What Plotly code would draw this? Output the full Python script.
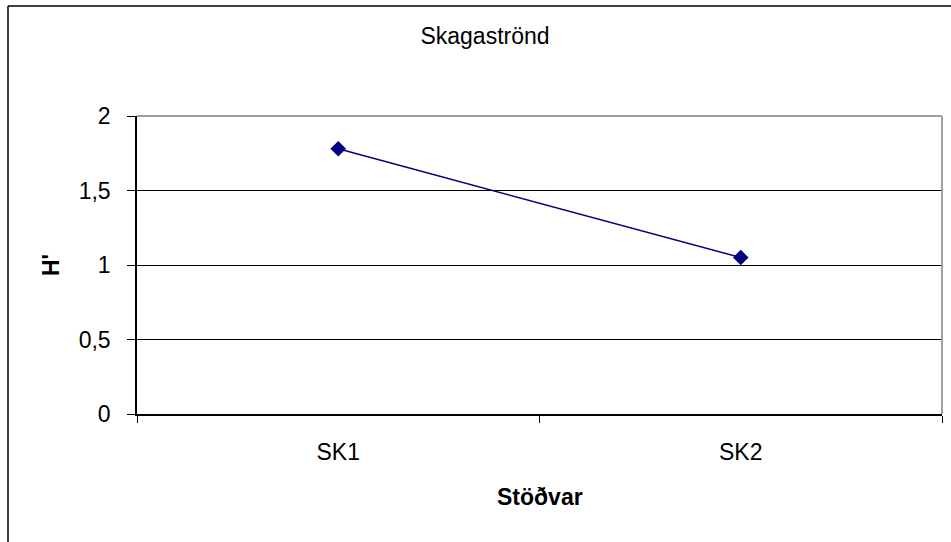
import plotly.graph_objects as go

categories = ["SK1", "SK2"]
h_values = [1.78, 1.05]
y_ticks = [0, 0.5, 1, 1.5, 2]
y_tick_labels = ["0", "0,5", "1", "1,5", "2"]
title_text = "Skagaströnd"
x_title = "Stöðvar"
y_title = "H'"

W, H = 951, 542
L, R, T, B = 137, 9, 116, 128
pw, ph = W - L - R, H - T - B

def px_x(x):
    return (x - L) / pw

def px_y(y):
    return (H - B - y) / ph

font = "Liberation Sans, Arial, sans-serif"
FS = 23

fig = go.Figure()
fig.add_trace(go.Scatter(
    x=categories, y=h_values, mode="lines+markers",
    line=dict(color="#000080", width=1.5),
    marker=dict(symbol="diamond", size=12, color="#000080"),
    showlegend=False,
))

fig.update_layout(
    width=W, height=H,
    margin=dict(l=L, r=R, t=T, b=B, pad=0),
    paper_bgcolor="white", plot_bgcolor="white",
    font=dict(family=font, size=FS, color="black"),
    title=dict(text=title_text, x=485 / W, xanchor="center", xref="container",
               y=1 - 36 / H, yanchor="middle", yref="container",
               font=dict(size=FS, family=font, color="black")),
    xaxis=dict(type="category", range=[-0.5, 1.5], tickson="boundaries",
               ticks="outside", ticklen=7, tickcolor="black", tickwidth=1,
               showline=True, linecolor="black", linewidth=1.5,
               showgrid=False, zeroline=False,
               ticklabelstandoff=17,
               tickfont=dict(size=FS, family=font)),
    yaxis=dict(range=[0, 2], tickvals=y_ticks, ticktext=y_tick_labels,
               ticks="outside", ticklen=8, tickcolor="black", tickwidth=1,
               showline=True, linecolor="black", linewidth=1.5,
               showgrid=True, gridcolor="black", gridwidth=1,
               zeroline=False, ticklabelstandoff=12,
               tickfont=dict(size=FS, family=font)),
    annotations=[
        dict(text="<b>" + x_title + "</b>", xref="paper", yref="paper",
             x=0.5, y=px_y(497), xanchor="center", yanchor="middle",
             showarrow=False, font=dict(size=FS, family=font)),
        dict(text="<b>" + y_title + "</b>", xref="paper", yref="paper",
             x=px_x(51), y=0.5, xanchor="center", yanchor="middle",
             textangle=-90, showarrow=False, font=dict(size=FS, family=font)),
    ],
    shapes=[
        dict(type="line", xref="paper", yref="paper", x0=0, x1=1, y0=1, y1=1,
             line=dict(color="#a0a0a0", width=2), layer="above"),
        dict(type="line", xref="paper", yref="paper", x0=1, x1=1, y0=0, y1=1,
             line=dict(color="#a0a0a0", width=2), layer="above"),
        dict(type="line", xref="paper", yref="paper", x0=px_x(8), x1=px_x(W + 2),
             y0=px_y(6), y1=px_y(6), line=dict(color="black", width=1.5)),
        dict(type="line", xref="paper", yref="paper", x0=px_x(8), x1=px_x(8),
             y0=px_y(6), y1=px_y(H + 2), line=dict(color="black", width=1.5)),
    ],
)

fig.write_html("out.html", config={"displayModeBar": False},
               post_script="document.body.style.margin='0';document.body.style.overflow='hidden';")
